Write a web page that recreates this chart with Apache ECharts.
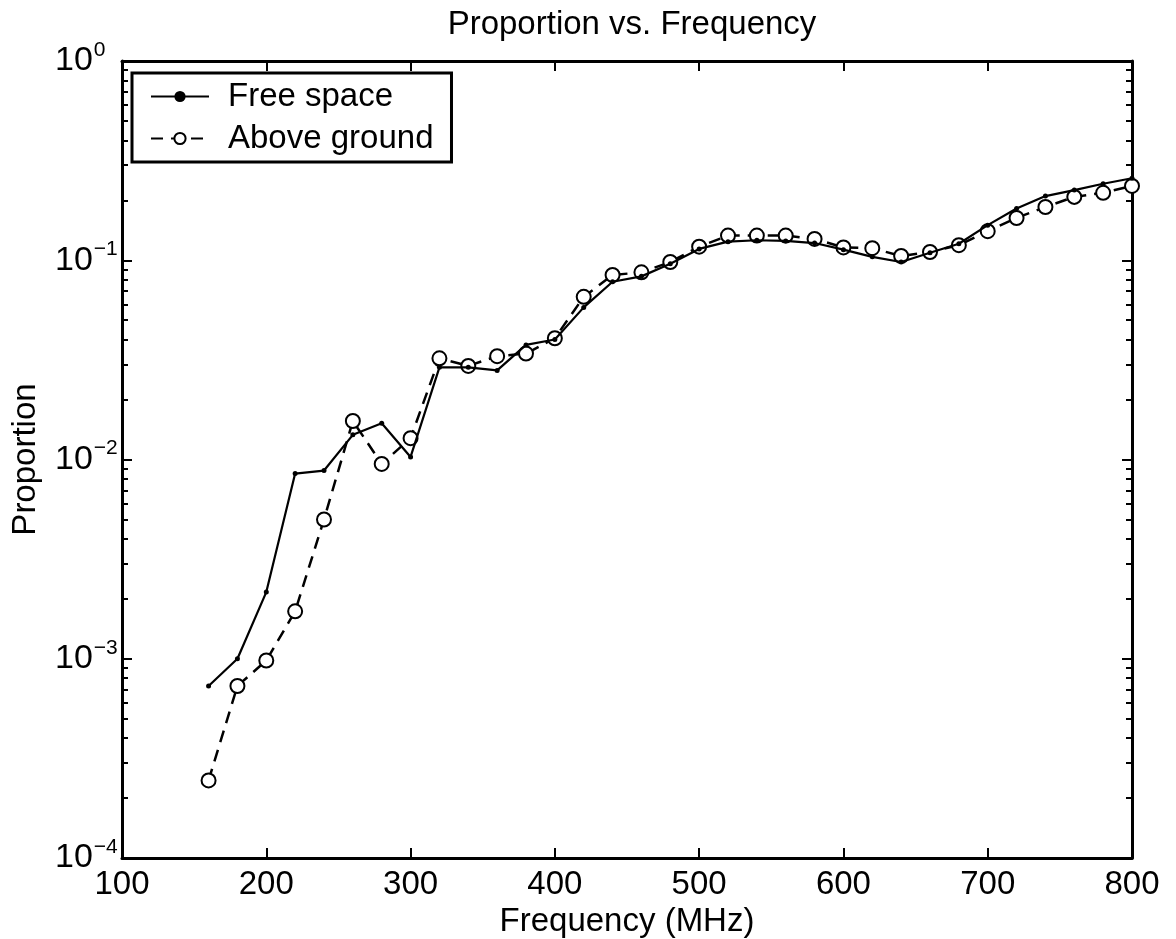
<!DOCTYPE html>
<html>
<head>
<meta charset="utf-8">
<script src="https://cdn.jsdelivr.net/npm/echarts@6/dist/echarts.min.js"></script>
<style>
html,body{margin:0;padding:0;background:#fff;}
#chart{width:1176px;height:939px;}
</style>
</head>
<body>
<div id="chart"></div>
<script>
const frequency = [160,180,200,220,240,260,280,300,320,340,360,380,400,420,440,460,480,500,520,540,560,580,600,620,640,660,680,700,720,740,760,780,800];
const freeSpace = [7.3e-4,1.0e-3,2.16e-3,8.5e-3,8.8e-3,0.0133,0.0152,0.0103,0.029,0.029,0.028,0.0376,0.040,0.058,0.078,0.083,0.096,0.114,0.124,0.126,0.125,0.122,0.113,0.104,0.098,0.109,0.121,0.150,0.182,0.210,0.225,0.242,0.258];
const aboveGround = [2.45e-4,7.3e-4,9.8e-4,1.73e-3,5.0e-3,0.0156,0.0095,0.0128,0.0322,0.0295,0.033,0.034,0.0406,0.0655,0.0843,0.087,0.098,0.117,0.133,0.133,0.133,0.128,0.116,0.115,0.105,0.110,0.119,0.140,0.163,0.185,0.208,0.218,0.236];
const xTicks = [100,200,300,400,500,600,700,800];
const yDecades = [1e-4,1e-3,1e-2,1e-1,1];
const mantissas = [2,3,4,5,6,7,8,9];
const minorTicks = [];
for (let d = 0; d < yDecades.length - 1; d++) {
  for (const m of mantissas) minorTicks.push(+(m * yDecades[d]).toPrecision(3));
}

const FONT = 'Liberation Sans, Arial, sans-serif';
const chart = echarts.init(document.getElementById('chart'));

function pair(arr) { return frequency.map((f, i) => [f, arr[i]]); }

const baseY = {
  type: 'log', logBase: 10, min: 1e-4, max: 1,
  splitLine: { show: false }, minorTick: { show: false }
};

chart.setOption({
  animation: false,
  backgroundColor: '#fff',
  title: {
    text: 'Proportion vs. Frequency',
    left: 627, top: 3, textAlign: 'center',
    textStyle: { fontFamily: FONT, fontSize: 33, fontWeight: 'normal', color: '#000' }
  },
  grid: { left: 122, right: 44, top: 61, bottom: 81, containLabel: false, outerBoundsMode: 'none' },
  legend: {
    orient: 'vertical', left: 132, top: 73,
    padding: [7, 18, 7, 18], itemGap: 9,
    itemWidth: 58, itemHeight: 14,
    backgroundColor: '#fff', borderColor: '#000', borderWidth: 3,
    textStyle: { fontFamily: FONT, fontSize: 33, color: '#000', padding: [0, 0, 0, 14] },
    data: [{ name: 'Free space' }, { name: 'Above ground' }]
  },
  xAxis: [{
    type: 'value', min: 100, max: 800, interval: 100,
    name: 'Frequency (MHz)', nameLocation: 'middle', nameGap: 42,
    nameTextStyle: { fontFamily: FONT, fontSize: 33, color: '#000' },
    axisLine: { show: true, lineStyle: { color: '#000', width: 3 } },
    axisTick: { show: true, inside: true, length: 10, lineStyle: { color: '#000', width: 2 } },
    axisLabel: { fontFamily: FONT, fontSize: 33, color: '#000', margin: 10, customValues: xTicks },
    splitLine: { show: false }
  }, {
    type: 'value', min: 100, max: 800, interval: 100, position: 'top',
    axisLine: { show: true, onZero: false, lineStyle: { color: '#000', width: 3 } },
    axisTick: { show: true, inside: true, length: 10, lineStyle: { color: '#000', width: 2 } },
    axisLabel: { show: false }, splitLine: { show: false }
  }],
  yAxis: [Object.assign({}, baseY, {
    position: 'left',
    name: 'Proportion', nameLocation: 'middle', nameGap: 80, nameRotate: 90,
    nameTextStyle: { fontFamily: FONT, fontSize: 33, color: '#000' },
    axisLine: { show: true, lineStyle: { color: '#000', width: 3 } },
    axisTick: { show: true, inside: true, length: 10, lineStyle: { color: '#000', width: 2 }, customValues: yDecades },
    axisLabel: {
      customValues: yDecades,
      align: 'left', margin: 67, color: '#000',
      formatter: function (v) {
        const e = Math.round(Math.log10(v));
        return '{b|10}{s|' + (e === 0 ? '0' : '\u2212' + (-e)) + '}';
      },
      rich: {
        b: { fontFamily: FONT, fontSize: 34, color: '#000' },
        s: { fontFamily: FONT, fontSize: 21, color: '#000', padding: [0, 0, 22, 1] }
      }
    }
  }), Object.assign({}, baseY, {
    position: 'left',
    axisLine: { show: false },
    axisTick: { show: true, inside: true, length: 6, lineStyle: { color: '#000', width: 2 }, customValues: minorTicks },
    axisLabel: { show: false }
  }), Object.assign({}, baseY, {
    position: 'right',
    axisLine: { show: true, onZero: false, lineStyle: { color: '#000', width: 3 } },
    axisTick: { show: true, inside: true, length: 10, lineStyle: { color: '#000', width: 2 }, customValues: yDecades },
    axisLabel: { show: false }
  }), Object.assign({}, baseY, {
    position: 'right',
    axisLine: { show: false },
    axisTick: { show: true, inside: true, length: 6, lineStyle: { color: '#000', width: 2 }, customValues: minorTicks },
    axisLabel: { show: false }
  })],
  series: [{
    name: 'Free space', type: 'line', data: pair(freeSpace),
    xAxisIndex: 0, yAxisIndex: 0,
    symbol: 'circle', symbolSize: 5, showSymbol: true,
    lineStyle: { color: '#000', width: 2.2, type: 'solid' },
    itemStyle: { color: '#000' }, z: 3
  }, {
    name: 'Above ground', type: 'line', data: pair(aboveGround),
    xAxisIndex: 0, yAxisIndex: 0,
    symbol: 'emptyCircle', symbolSize: 14, showSymbol: true,
    lineStyle: { color: '#000', width: 2.5, type: [12, 8] },
    itemStyle: { color: '#000', borderColor: '#000', borderWidth: 2.5 }, z: 2
  }]
});
</script>
</body>
</html>
